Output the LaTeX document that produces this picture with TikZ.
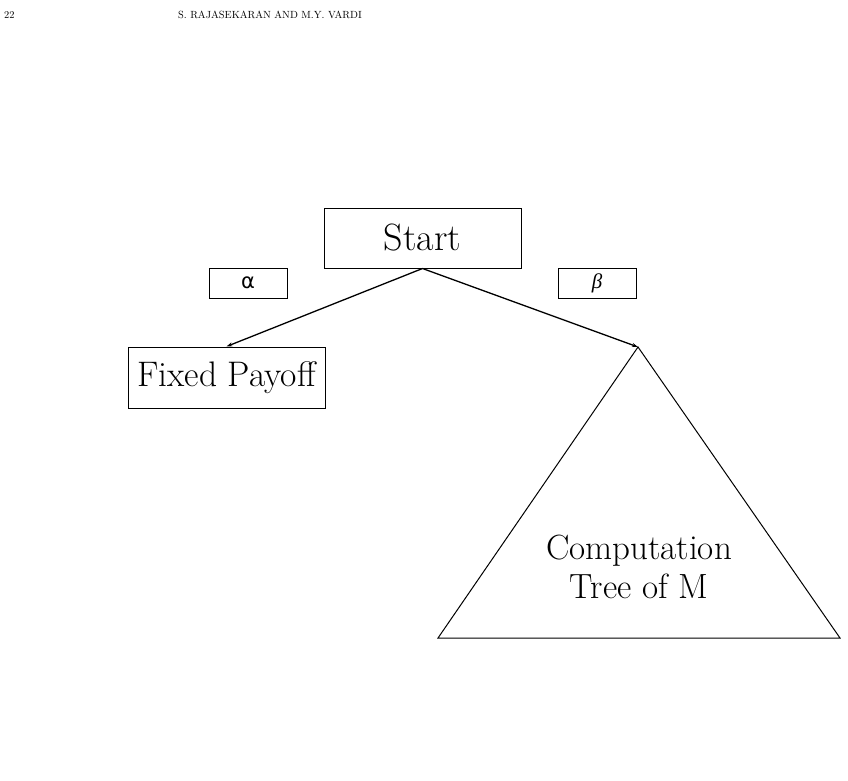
\RequirePackage{fix-cm}
\documentclass[tikz,border=0pt]{standalone}
\usepackage{fontspec}
\newfontfamily\dejavu{DejaVu Sans}
\newfontfamily\lserif{Liberation Serif}
\usetikzlibrary{arrows.meta}
\begin{document}
\begin{tikzpicture}[x=1pt,y=-1pt,
  box/.style={draw,line width=1pt,inner sep=0pt},
  lblbox/.style={draw,line width=1pt,inner sep=0pt,minimum width=78pt,minimum height=30pt},
  conn/.style={line width=1.3pt,-{Stealth[length=6pt,width=4pt]}},
  tri/.style={line width=1pt,line join=miter}]
\useasboundingbox (0,0) rectangle (848,780);
\node[anchor=base west,font=\fontsize{10.4}{12}\selectfont,inner sep=0pt] (pg) at (4,18) {22};
\node[anchor=base,font=\fontsize{10.4}{12}\selectfont,inner sep=0pt] (hdr) at (270,18) {S. RAJASEKARAN AND M.Y. VARDI};
\node[box,minimum width=197pt,minimum height=60pt,font=\fontsize{38}{44}\selectfont] (start) at (422.5,238) {Start};
\node[box,minimum width=197pt,minimum height=61pt,font=\fontsize{35.5}{42}\selectfont] (fixed) at (226.5,377.5) {Fixed Payoff};
\node[lblbox,font=\fontsize{21}{24}\selectfont] (alpha) at (248,283) {\dejavu α};
\node[lblbox,font=\fontsize{21}{24}\selectfont] (beta) at (597,283) {\lserif\itshape β};
\coordinate (apex) at (638,347);
\coordinate (bl) at (438,638);
\coordinate (br) at (840,638);
\draw[tri] (apex) -- (bl) -- (br) -- cycle;
\node[align=center,font=\fontsize{35}{39}\selectfont,inner sep=0pt] (comp) at (639,567) {Computation\\Tree of M};
\draw[conn] (start.south) -- (fixed.north);
\draw[conn] (start.south) -- (apex);
\end{tikzpicture}
\end{document}
